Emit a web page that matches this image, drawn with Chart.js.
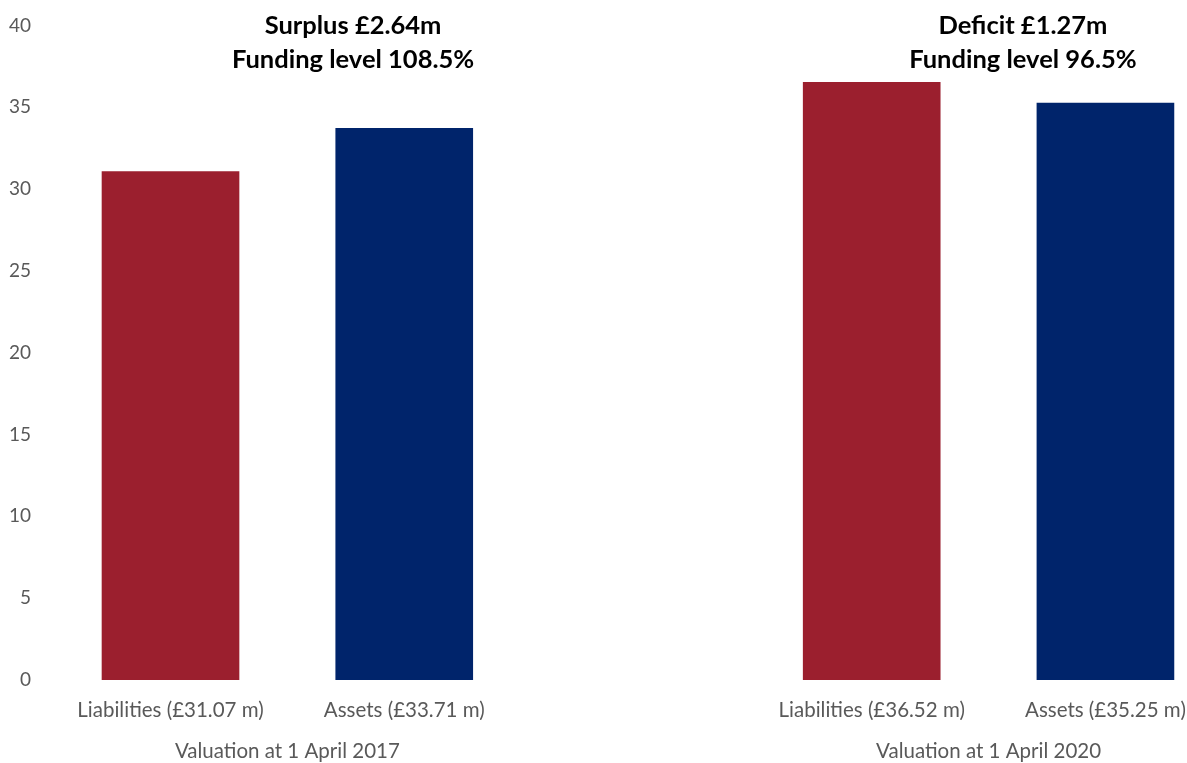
<!DOCTYPE html>
<html>
<head>
<meta charset="utf-8">
<script src="https://cdn.jsdelivr.net/npm/chart.js@4.4.0/dist/chart.umd.min.js"></script>
<style>
  html, body { margin: 0; padding: 0; background: #fff; overflow: hidden; }
  #wrap { width: 1187px; height: 763px; position: relative; }
</style>
</head>
<body>
<div id="wrap"><canvas id="fundingChart"></canvas></div>
<script>
// valuation groups and their values (£m)
const groups = ['Valuation at 1 April 2017', 'Valuation at 1 April 2020'];
const liabilities = [31.07, 36.52];
const assets = [33.71, 35.25];
const barLabels = [
    ['Liabilities (£31.07 m)', 'Assets (£33.71 m)'],
    ['Liabilities (£36.52 m)', 'Assets (£35.25 m)']
];
const notes = [
    ['Surplus £2.64m', 'Funding level 108.5%'],
    ['Deficit £1.27m', 'Funding level 96.5%']
];
const yTicks = [0, 5, 10, 15, 20, 25, 30, 35, 40];

const RED = '#9B1F2E';
const NAVY = '#00246B';
const GREY = '#595959';
const FONT = 'Lato, "Open Sans", sans-serif';

// each group takes 3 slots on the x scale: liabilities, assets, gap
const slot = (g, i) => g * 3 + i;
const tickMap = {};
groups.forEach((g, gi) => {
    tickMap[slot(gi, 0)] = barLabels[gi][0];
    tickMap[slot(gi, 1)] = barLabels[gi][1];
});
const groupMap = {};
groups.forEach((g, gi) => { groupMap[slot(gi, 0.5)] = g; });

const notesPlugin = {
    id: 'notes',
    afterDraw(chart, args, opts) {
        const { ctx, scales } = chart;
        ctx.save();
        ctx.fillStyle = '#000';
        ctx.font = 'bold 25.5px ' + FONT;
        ctx.textAlign = 'center';
        ctx.textBaseline = 'middle';
        notes.forEach((lines, gi) => {
            const x = scales.x.getPixelForValue(slot(gi, opts.offsets[gi]));
            const y = scales.y.getPixelForValue(yTicks[yTicks.length - 1]);
            lines.forEach((line, li) => ctx.fillText(line, x, y + li * 34));
        });
        ctx.restore();
    }
};

// no side padding from the x axes so the plot runs to the canvas edge
const noSidePad = h => axis => {
    axis.height = h;
    axis.paddingLeft = 0;
    axis.paddingRight = 0;
};

const ctx = document.getElementById('fundingChart').getContext('2d');
new Chart(ctx, {
    type: 'bar',
    data: {
        datasets: [
            {
                label: 'Liabilities',
                data: liabilities.map((v, gi) => ({ x: slot(gi, 0), y: v })),
                backgroundColor: RED,
                grouped: false,
                barThickness: 137
            },
            {
                label: 'Assets',
                data: assets.map((v, gi) => ({ x: slot(gi, 1), y: v })),
                backgroundColor: NAVY,
                grouped: false,
                barThickness: 137
            }
        ]
    },
    options: {
        responsive: true,
        maintainAspectRatio: false,
        animation: false,
        layout: { padding: { top: 23, right: 0, bottom: 1, left: 0 } },
        scales: {
            x: {
                type: 'linear',
                offset: false,
                min: -0.537,
                max: 4.349,
                grid: { display: false, drawTicks: false },
                border: { display: false },
                afterBuildTicks: axis => {
                    axis.ticks = Object.keys(tickMap).map(v => ({ value: +v }));
                },
                afterFit: noSidePad(40),
                ticks: {
                    autoSkip: false,
                    maxRotation: 0,
                    padding: 18,
                    color: GREY,
                    font: { family: FONT, size: 20.5 },
                    callback: v => tickMap[v] || ''
                }
            },
            x2: {
                type: 'linear',
                position: 'bottom',
                offset: false,
                min: -0.537,
                max: 4.349,
                grid: { display: false, drawTicks: false },
                border: { display: false },
                afterBuildTicks: axis => {
                    axis.ticks = Object.keys(groupMap).map(v => ({ value: +v }));
                },
                afterFit: noSidePad(42),
                ticks: {
                    autoSkip: false,
                    maxRotation: 0,
                    padding: 19,
                    color: GREY,
                    font: { family: FONT, size: 20.5 },
                    callback: v => groupMap[v] || ''
                }
            },
            y: {
                min: 0,
                max: 40,
                grid: { display: false, drawTicks: false },
                border: { display: false },
                afterFit: axis => { axis.width = 45; },
                ticks: {
                    stepSize: 5,
                    padding: 14,
                    color: GREY,
                    font: { family: FONT, size: 19 }
                }
            }
        },
        plugins: {
            legend: { display: false },
            tooltip: { enabled: false },
            notes: { offsets: [0.781, 0.647] }
        }
    },
    plugins: [notesPlugin]
});
</script>
</body>
</html>
